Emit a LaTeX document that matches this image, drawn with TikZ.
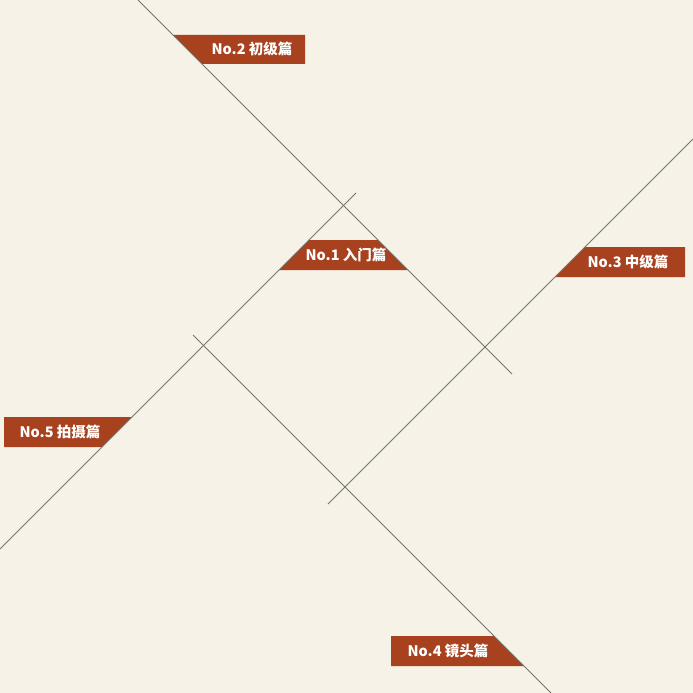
\documentclass[tikz,border=0pt]{standalone}
\usepackage{fontspec}
\newfontfamily\cjk{Noto Sans CJK SC}
\usetikzlibrary{positioning}
\definecolor{paper}{HTML}{F6F2E7}
\definecolor{rust}{HTML}{A8411E}
\definecolor{rule}{HTML}{77756B}
\tikzset{
  ln/.style={draw=rule,line width=0.8pt},
  tag/.style={fill=rust},
  lbl/.style={text=white,inner sep=0pt,font=\cjk\bfseries\fontsize{14.5}{15}\selectfont},
}

\begin{document}
\begin{tikzpicture}[x=1pt,y=-1pt]
\fill[paper] (0,0) rectangle (693,693);
\useasboundingbox (0,0) rectangle (693,693);
% line ends
\coordinate (a1) at (138,0);   \coordinate (a2) at (512,374);
\coordinate (b1) at (0,549);   \coordinate (b2) at (356,193);
\coordinate (c1) at (328,504); \coordinate (c2) at (693,139);
\coordinate (d1) at (193,335); \coordinate (d2) at (551,693);
% banners
\fill[tag] (173,35) -- (305,35) -- (305,64) -- (202,64) -- cycle;
\fill[tag] (309,240) -- (378,240) -- (408,270) -- (279,270) -- cycle;
\fill[tag] (585,247) -- (685,247) -- (685,277) -- (555,277) -- cycle;
\fill[tag] (4,417) -- (132,417) -- (102,447) -- (4,447) -- cycle;
\fill[tag] (391,636) -- (494,636) -- (524,666) -- (391,666) -- cycle;
% lines
\draw[ln] (a1) -- (a2);
\draw[ln] (b1) -- (b2);
\draw[ln] (c1) -- (c2);
\draw[ln] (d1) -- (d2);
% labels
\node[lbl] (t1) at (346,255) {No.1 入门篇};
\node[lbl] (t2) at (252,49)  {No.2 初级篇};
\node[lbl] (t3) at (628,262) {No.3 中级篇};
\node[lbl] (t4) at (448,651) {No.4 镜头篇};
\node[lbl] (t5) at (60,432)  {No.5 拍摄篇};
\end{tikzpicture}
\end{document}
